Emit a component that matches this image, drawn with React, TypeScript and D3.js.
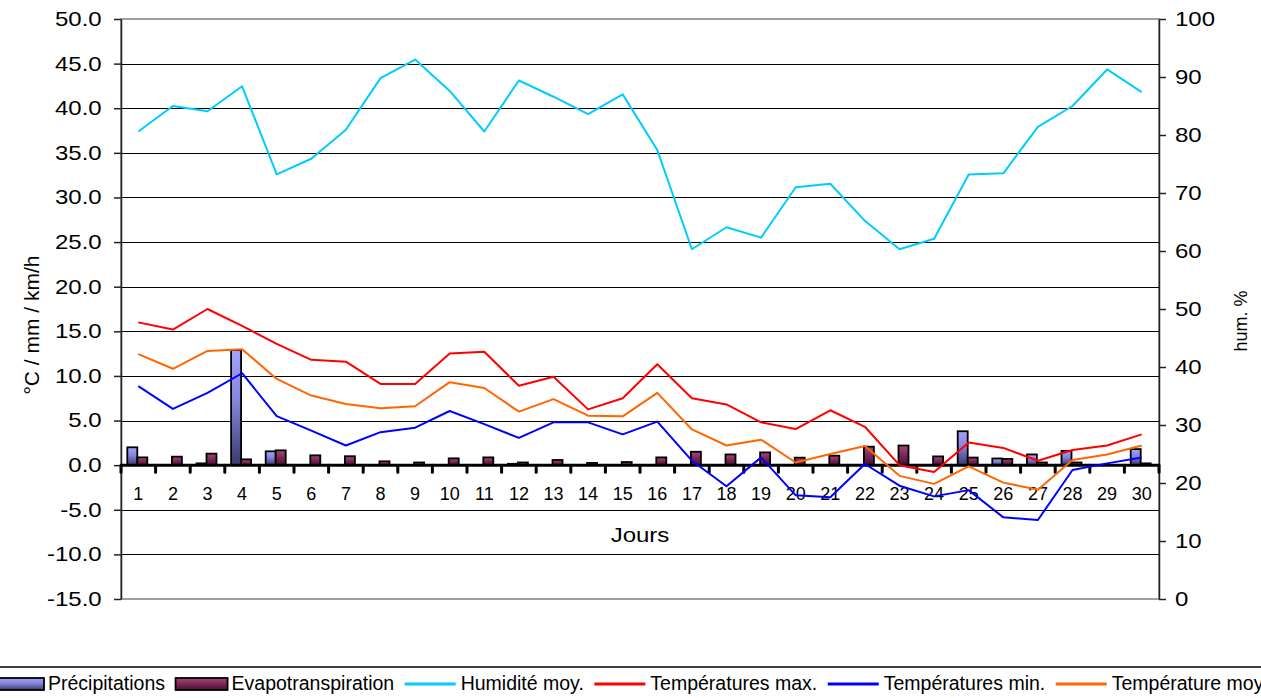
import React, { useEffect, useRef } from 'react';
import * as d3 from 'd3';

const days = ['1', '2', '3', '4', '5', '6', '7', '8', '9', '10', '11', '12', '13', '14', '15',
  '16', '17', '18', '19', '20', '21', '22', '23', '24', '25', '26', '27', '28', '29', '30'];

const precipitations = [2.0, 0, 0.2, 12.9, 1.55, 0, 0, 0, 0, 0, 0, 0.15, 0, 0, 0,
  0, 0, 0, 0, 0, 0, 0, 0, 0, 3.8, 0.75, 1.2, 1.6, 0, 1.8];
const evapotranspiration = [0.87, 0.95, 1.29, 0.65, 1.66, 1.1, 1.0, 0.43, 0.3, 0.76, 0.87, 0.3, 0.58, 0.25, 0.35,
  0.87, 1.5, 1.2, 1.43, 0.84, 1.06, 2.07, 2.2, 0.98, 0.85, 0.7, 0.3, 0.3, 0, 0.2];
const humidite = [80.6, 85.0, 84.1, 88.4, 73.2, 75.9, 80.9, 89.8, 93.0, 87.6, 80.6, 89.4, 86.6, 83.6, 87.0,
  77.4, 60.3, 64.1, 62.3, 71.0, 71.6, 65.2, 60.3, 62.1, 73.2, 73.4, 81.4, 85.0, 91.3, 87.4];
const tempMax = [16.0, 15.2, 17.5, 15.6, 13.6, 11.8, 11.6, 9.1, 9.1, 12.5, 12.7, 8.9, 9.9, 6.25, 7.5,
  11.3, 7.5, 6.8, 4.8, 4.05, 6.15, 4.3, 0.0, -0.77, 2.55, 1.93, 0.5, 1.7, 2.2, 3.45];
const tempMin = [8.85, 6.3, 8.1, 10.3, 5.5, 3.87, 2.2, 3.7, 4.2, 6.07, 4.6, 3.05, 4.8, 4.8, 3.45,
  4.88, 0.5, -2.37, 0.87, -3.38, -3.6, 0.13, -2.3, -3.5, -2.8, -5.85, -6.15, -0.54, 0.2, 0.87];
const tempMoy = [12.45, 10.8, 12.8, 13.0, 9.66, 7.8, 6.86, 6.37, 6.6, 9.3, 8.65, 6.0, 7.4, 5.55, 5.47,
  8.1, 4.0, 2.2, 2.85, 0.3, 1.25, 2.15, -1.2, -2.1, -0.13, -1.96, -2.75, 0.58, 1.2, 2.2];

const leftTicks = [-15, -10, -5, 0, 5, 10, 15, 20, 25, 30, 35, 40, 45, 50];
const rightTicks = [0, 10, 20, 30, 40, 50, 60, 70, 80, 90, 100];

const legendLabels = ['Précipitations', 'Evapotranspiration', 'Humidité moy.',
  'Températures max.', 'Températures min.', 'Température moy.'];

const FONT = '"Liberation Sans", Arial, sans-serif';

const App = () => {
  const ref = useRef<SVGSVGElement | null>(null);
  const width = 1261;
  const height = 698;

  useEffect(() => {
    drawChart();
  }, []);

  function drawChart() {
    const svg = d3.select(ref.current);
    svg.selectAll('*').remove();

    const left = 121, right = 1159, top = 19, bottom = 599;

    const x = d3.scaleBand<string>().domain(days).range([left, right]).padding(0);
    const x1 = d3.scaleBand<string>().domain(['p', 'e']).range([-1, x.bandwidth() - 1]).paddingOuter(0.73);
    const y = d3.scaleLinear().domain([-15, 50]).range([bottom, top]);
    const yR = d3.scaleLinear().domain([0, 100]).range([bottom, top]);
    const cx = (d: string) => (x(d) as number) + x.bandwidth() / 2;
    const fmt1 = d3.format('.1f');

    // gradients
    const defs = svg.append('defs');
    const grad = (id: string, c1: string, c2: string, c3: string) => {
      const g = defs.append('linearGradient').attr('id', id)
        .attr('x1', 0).attr('y1', 0).attr('x2', 0).attr('y2', 1);
      g.append('stop').attr('offset', '0%').attr('stop-color', c1);
      g.append('stop').attr('offset', '45%').attr('stop-color', c2);
      g.append('stop').attr('offset', '100%').attr('stop-color', c3);
    };
    grad('gradPrecip', '#a3a3ff', '#8484dc', '#3a3a6c');
    grad('gradEvap', '#a8487a', '#7e2a56', '#4a1030');

    // plot border (gray)
    svg.append('rect')
      .attr('x', left).attr('y', top)
      .attr('width', right - left).attr('height', bottom - top)
      .attr('fill', 'none').attr('stroke', '#808080').attr('stroke-width', 1.5);

    // gridlines
    svg.append('g')
      .selectAll('line')
      .data(leftTicks.filter((t) => t !== 50 && t !== -15 && t !== 0))
      .enter()
      .append('line')
      .attr('x1', left).attr('x2', right)
      .attr('y1', (d) => Math.round(y(d)) + 0.5).attr('y2', (d) => Math.round(y(d)) + 0.5)
      .attr('stroke', '#000').attr('stroke-width', 1);

    // left axis
    const axL = svg.append('g')
      .attr('transform', `translate(${left},0)`)
      .call(d3.axisLeft(y).tickValues(leftTicks)
        .tickFormat((d) => fmt1(d as number).replace('\u2212', '-'))
        .tickSize(7).tickSizeOuter(0));
    axL.select('.domain').attr('stroke', '#222').attr('stroke-width', 1.5);
    axL.selectAll('.tick line').attr('stroke', '#222').attr('stroke-width', 1.5);
    axL.selectAll('.tick text')
      .attr('x', -16.1).attr('transform', 'scale(1.2,1)')
      .attr('font-size', 20).attr('font-family', FONT).attr('fill', '#000');

    // right axis
    const axR = svg.append('g')
      .attr('transform', `translate(${right},0)`)
      .call(d3.axisRight(yR).tickValues(rightTicks).tickFormat(d3.format('d')).tickSize(7).tickSizeOuter(0));
    axR.select('.domain').attr('stroke', '#222').attr('stroke-width', 1.5);
    axR.selectAll('.tick line').attr('stroke', '#222').attr('stroke-width', 1.5);
    axR.selectAll('.tick text')
      .attr('x', 13.3).attr('transform', 'scale(1.2,1)')
      .attr('font-size', 20).attr('font-family', FONT).attr('fill', '#000');

    // bars
    const barGroup = svg.append('g');
    const drawBars = (values: number[], key: string, fill: string) => {
      barGroup.selectAll(`rect.${key}`)
        .data(days.map((d, i) => ({ d, v: values[i] })).filter((o) => o.v > 0))
        .enter()
        .append('rect')
        .attr('class', key)
        .attr('x', (o) => (x(o.d) as number) + (x1(key) as number))
        .attr('width', x1.bandwidth())
        .attr('y', (o) => y(o.v))
        .attr('height', (o) => y(0) - y(o.v))
        .attr('fill', fill)
        .attr('stroke', '#000')
        .attr('stroke-width', 1.8);
    };
    drawBars(precipitations, 'p', 'url(#gradPrecip)');
    drawBars(evapotranspiration, 'e', 'url(#gradEvap)');

    // category axis at zero
    const y0 = y(0);
    svg.append('line')
      .attr('x1', left).attr('x2', right).attr('y1', y0).attr('y2', y0)
      .attr('stroke', '#000').attr('stroke-width', 3);
    const bounds = days.map((d) => x(d) as number).concat([right]);
    svg.append('g')
      .selectAll('line')
      .data(bounds)
      .enter()
      .append('line')
      .attr('x1', (d) => d).attr('x2', (d) => d)
      .attr('y1', y0).attr('y2', y0 + 7)
      .attr('stroke', '#000').attr('stroke-width', 3).attr('stroke-linecap', 'round');
    svg.append('g')
      .selectAll('text')
      .data(days)
      .enter()
      .append('text')
      .attr('x', (d) => cx(d))
      .attr('y', 500)
      .attr('text-anchor', 'middle')
      .attr('font-size', 18)
      .attr('font-family', FONT)
      .text((d) => d);

    // lines
    const series = [
      { values: humidite, color: '#00ccff', scale: yR },
      { values: tempMax, color: '#ff0000', scale: y },
      { values: tempMin, color: '#0000ff', scale: y },
      { values: tempMoy, color: '#ff6600', scale: y },
    ];
    series.forEach((s) => {
      const line = d3.line<number>()
        .x((_, i) => cx(days[i]))
        .y((v) => s.scale(v));
      svg.append('path')
        .datum(s.values)
        .attr('d', line)
        .attr('fill', 'none')
        .attr('stroke', s.color)
        .attr('stroke-width', 2)
        .attr('stroke-linejoin', 'round');
    });

    // axis titles
    svg.append('text')
      .attr('transform', 'translate(640,542) scale(1.2,1)')
      .attr('text-anchor', 'middle')
      .attr('font-size', 20)
      .attr('font-family', FONT)
      .text('Jours');
    svg.append('text')
      .attr('transform', 'translate(39,325) rotate(-90)')
      .attr('text-anchor', 'middle')
      .attr('font-size', 21)
      .attr('font-family', FONT)
      .text('°C / mm / km/h');
    svg.append('text')
      .attr('transform', 'translate(1247,321) rotate(-90)')
      .attr('text-anchor', 'middle')
      .attr('font-size', 18)
      .attr('font-family', FONT)
      .text('hum. %');

    // legend
    const legend = svg.append('g');
    legend.append('rect')
      .attr('x', -5).attr('y', 667).attr('width', width + 10).attr('height', 60)
      .attr('fill', 'none').attr('stroke', '#404040').attr('stroke-width', 2);
    const swatches = ['url(#gradPrecip)', 'url(#gradEvap)', '#00ccff', '#ff0000', '#0000ff', '#ff6600'];
    let lx = -8;
    legendLabels.forEach((label, i) => {
      if (i < 2) {
        legend.append('rect')
          .attr('x', lx).attr('y', 678).attr('width', 52).attr('height', 12)
          .attr('fill', swatches[i]).attr('stroke', '#000').attr('stroke-width', 1.8);
      } else {
        legend.append('line')
          .attr('x1', lx).attr('x2', lx + 51).attr('y1', 684).attr('y2', 684)
          .attr('stroke', swatches[i]).attr('stroke-width', 3);
      }
      const t = legend.append('text')
        .attr('x', lx + 56).attr('y', 690)
        .attr('font-size', 19.5)
        .attr('font-family', FONT)
        .text(label);
      const w = (t.node() as SVGTextElement).getComputedTextLength();
      lx = lx + 56 + w + 10.5;
    });
  }

  return (
    <svg
      ref={ref}
      width={width}
      height={height}
      style={{ position: 'absolute', left: 0, top: 0, background: '#fff' }}
    />
  );
};

export default App;
